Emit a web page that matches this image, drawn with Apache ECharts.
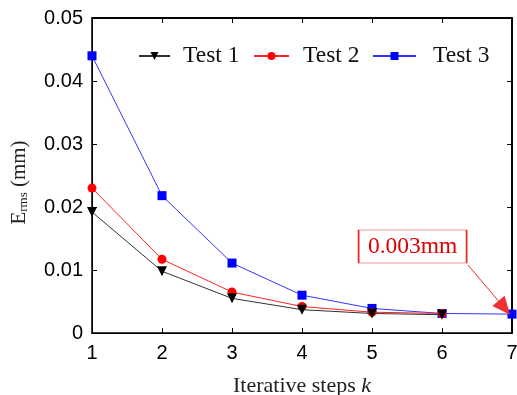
<!DOCTYPE html>
<html><head><meta charset="utf-8">
<script src="https://cdn.jsdelivr.net/npm/echarts@6/dist/echarts.min.js"></script>
<style>html,body{margin:0;padding:0;background:#fff}#c{width:517px;height:395px}</style>
</head><body><div id="c"></div>
<script>
const steps = [1, 2, 3, 4, 5, 6, 7];
const test1 = [0.0192, 0.0098, 0.0055, 0.0037, 0.0031, 0.0029];
const test2 = [0.0230, 0.0117, 0.0065, 0.0042, 0.0033, 0.0031];
const test3 = [0.0440, 0.0218, 0.0111, 0.0060, 0.0039, 0.0031, 0.0030];
const seriesNames = ['Test 1', 'Test 2', 'Test 3'];
const yTicks = [0, 0.01, 0.02, 0.03, 0.04, 0.05];
const yTickLabels = ['0', '0.01', '0.02', '0.03', '0.04', '0.05'];
const annotText = '0.003mm';
const annotTarget = [6.89, 0.0040];
const annotBoxCenter = [5.58, 0.01373];
const annotFrom = [6.37, 0.0108];

const pair = (arr) => arr.map((v, i) => [steps[i], v]);
const serif = '"Liberation Serif", "Times New Roman", serif';
const sans = '"Liberation Sans", Arial, sans-serif';
const xMin = steps[0], xMax = steps[steps.length - 1];
const yMin = yTicks[0], yMax = yTicks[yTicks.length - 1];

const legendLayout = [
  { left: 133, w: 31, pad: 8 },
  { left: 248, w: 35, pad: 9 },
  { left: 367, w: 43, pad: 12 }
];
const tickStyle = { show: true, inside: true, length: 5, lineStyle: { color: '#000' } };

const chart = echarts.init(document.getElementById('c'));
chart.setOption({
  animation: false,
  grid: { left: 92, right: 5, top: 18, bottom: 62, show: true, borderColor: '#000', borderWidth: 1.5, outerBoundsMode: 'none' },
  legend: seriesNames.map((n, i) => ({
    left: legendLayout[i].left, top: 39, itemWidth: legendLayout[i].w, itemHeight: 10,
    textStyle: { fontFamily: serif, fontSize: 23.5, color: '#111', padding: [0, 0, 0, legendLayout[i].pad] },
    data: [n]
  })),
  xAxis: [{
    type: 'value', min: xMin, max: xMax, interval: 1,
    name: '{t|Iterative steps }{k|k}',
    nameLocation: 'middle', nameGap: 42,
    nameTextStyle: { rich: { t: { fontFamily: serif, fontSize: 22, color: '#222' }, k: { fontFamily: serif, fontSize: 22, fontStyle: 'italic', color: '#222' } } },
    axisLine: { onZero: false, lineStyle: { color: '#000', width: 1 } },
    axisTick: tickStyle,
    axisLabel: { fontFamily: sans, fontSize: 20, color: '#000', margin: 10 },
    splitLine: { show: false }
  }, {
    type: 'value', min: xMin, max: xMax, interval: 1, position: 'top',
    axisLine: { show: true, onZero: false, lineStyle: { color: '#000', width: 1.5 } },
    axisTick: tickStyle, axisLabel: { show: false }, splitLine: { show: false }
  }],
  yAxis: [{
    type: 'value', min: yMin, max: yMax, interval: 0.01,
    name: '{e|E}{s|rms}{n| (mm)}',
    nameLocation: 'middle', nameGap: 62, nameRotate: 90,
    nameTextStyle: { padding: [0, 14, 0, 0], rich: {
      e: { fontFamily: serif, fontSize: 21, color: '#222', verticalAlign: 'bottom', lineHeight: 24 },
      s: { fontFamily: serif, fontSize: 13, color: '#222', verticalAlign: 'bottom', lineHeight: 19 },
      n: { fontFamily: serif, fontSize: 21, color: '#222', verticalAlign: 'bottom', lineHeight: 24 }
    } },
    axisLine: { show: true, onZero: false, lineStyle: { color: '#000', width: 1 } },
    axisTick: tickStyle,
    axisLabel: { fontFamily: sans, fontSize: 20, color: '#000', margin: 9,
      formatter: (v) => { const i = yTicks.findIndex(t => Math.abs(t - v) < 1e-9); return i < 0 ? '' : yTickLabels[i]; } },
    splitLine: { show: false }
  }, {
    type: 'value', min: yMin, max: yMax, interval: 0.01, position: 'right',
    axisLine: { show: true, onZero: false, lineStyle: { color: '#000', width: 1.5 } },
    axisTick: tickStyle, axisLabel: { show: false }, splitLine: { show: false }
  }],
  series: [
    { name: 'frame', type: 'line', data: [[xMin, yMax], [xMax, yMax], [xMax, yMin]], symbol: 'none', silent: true, clip: false,
      lineStyle: { color: '#000', width: 1.5 }, z: 1, legendHoverLink: false },
    { name: seriesNames[0], type: 'line', data: pair(test1), color: '#000', symbol: 'triangle', symbolRotate: 180, symbolSize: 10,
      lineStyle: { color: '#333', width: 1 }, itemStyle: { color: '#000' }, z: 4 },
    { name: seriesNames[1], type: 'line', data: pair(test2), color: '#f00', symbol: 'circle', symbolSize: 9,
      lineStyle: { color: '#f22', width: 1 }, itemStyle: { color: '#f00' }, z: 3 },
    { name: seriesNames[2], type: 'line', data: pair(test3), color: '#00f', symbol: 'rect', symbolSize: 9,
      lineStyle: { color: '#33f', width: 1 }, itemStyle: { color: '#00f' }, z: 2,
      markPoint: {
        silent: true, symbol: 'rect', symbolSize: [108, 33],
        itemStyle: { color: '#fff', borderColor: '#e03030', borderWidth: 1 },
        label: { show: true, position: 'inside', formatter: annotText, fontFamily: serif, fontSize: 23.5, color: '#e00000' },
        data: [{ coord: annotBoxCenter }]
      },
      markLine: {
        silent: true, symbol: ['none', 'triangle'], symbolSize: [16, 18], z: 10,
        lineStyle: { color: '#f03030', width: 1, type: 'solid' },
        itemStyle: { color: '#f00' },
        label: { show: false },
        emphasis: { disabled: true },
        data: [[{ coord: annotFrom }, { coord: annotTarget }]]
      }
    },
    { type: 'line', xAxisIndex: 1, yAxisIndex: 1, data: [], silent: true }
  ]
});
</script></body></html>
